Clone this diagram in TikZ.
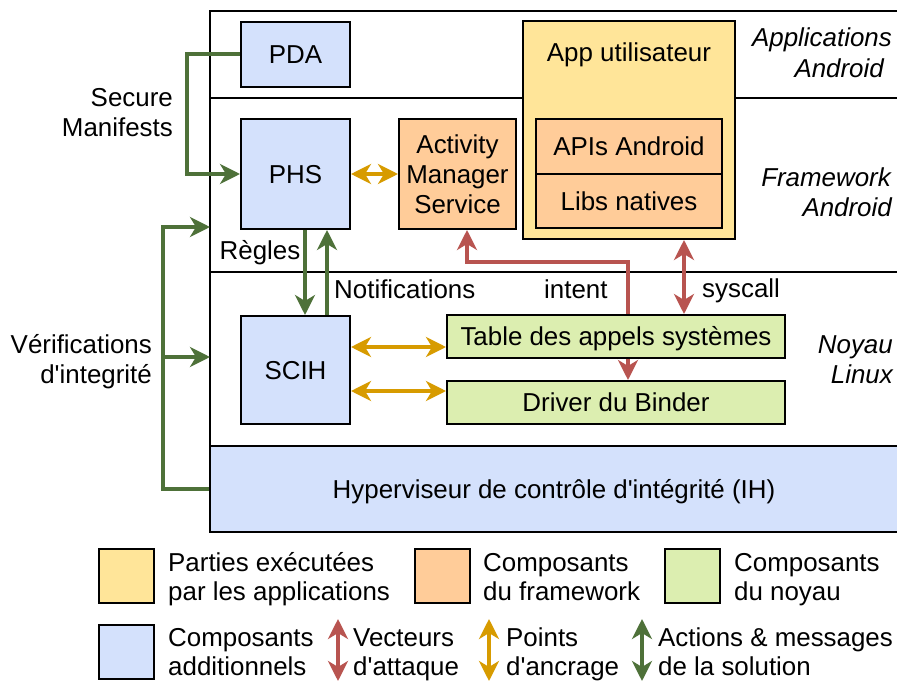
\documentclass[tikz,border=0pt]{standalone}
\usepackage{fontspec}
\setmainfont{Liberation Sans}
\usetikzlibrary{arrows.meta}
\definecolor{cblue}{HTML}{D4E1FC}
\definecolor{cyellow}{HTML}{FFE599}
\definecolor{corange}{HTML}{FFCC99}
\definecolor{cgreen}{HTML}{DCEEB0}
\definecolor{ared}{HTML}{B85450}
\definecolor{agold}{HTML}{D79B00}
\definecolor{agreen}{HTML}{4E7139}
\newcommand{\myq}{\textquotesingle}
\begin{document}
\begin{tikzpicture}[x=1pt,y=-1pt,
  font=\fontsize{25.9}{30}\selectfont,
  >={Stealth[length=20pt,width=20pt,inset=6pt]},
  box/.style={draw=black, line width=2pt, inner sep=0pt, align=center},
  one/.style={text height=18.5pt, text depth=0pt},
  lbl/.style={inner sep=0pt},
  layer/.style={inner sep=0pt, anchor=base east, font=\fontsize{25.9}{30}\selectfont\itshape},
  rline/.style={draw=ared, line width=4pt},
  oline/.style={draw=agold, line width=4pt},
  gline/.style={draw=agreen, line width=4pt},
  frame/.style={draw=black, line width=2pt}
]
\useasboundingbox (0,0) rectangle (897,682);
% frame and layers
\draw[frame] (897,11) -- (210,11) -- (210,532) -- (897,532);
\draw[frame] (210,98) -- (897,98);
\draw[frame] (210,272) -- (897,272);

% boxes
\node[box, fill=cblue, minimum width=109pt, minimum height=65pt, one] (pda) at (295.5,54.5) {PDA};
\node[box, fill=cblue, minimum width=109pt, minimum height=110pt, one] (phs) at (295.5,174) {PHS};
\node[box, fill=corange, minimum width=117pt, minimum height=110pt] (ams) at (457.5,174) {Activity\\Manager\\Service};
\node[box, fill=cyellow, minimum width=212pt, minimum height=218pt] (app) at (629,130) {};
\node[lbl, anchor=base] (apptxt) at (629,62) {App utilisateur};
\node[box, fill=corange, minimum width=186pt, minimum height=55pt, one] (apis) at (629,146.5) {APIs Android};
\node[box, fill=corange, minimum width=186pt, minimum height=54pt, one] (libs) at (629,201) {Libs natives};
\node[box, fill=cblue, minimum width=109pt, minimum height=108pt, one] (scih) at (295.5,370) {SCIH};
\node[box, fill=cgreen, minimum width=338pt, minimum height=43pt, one] (binder) at (616,402.5) {Driver du Binder};
\node[box, fill=cblue, minimum width=688pt, minimum height=86pt, one] (ih) at (554,489) {Hyperviseur de contrôle d\myq intégrité (IH)};

% layer labels
\node[layer] (l1a) at (892,47) {Applications};
\node[layer] (l1b) at (884,78) {Android};
\node[layer] (l2a) at (891,186) {Framework};
\node[layer] (l2b) at (892,216) {Android};
\node[layer] (l3a) at (893,353) {Noyau};
\node[layer] (l3b) at (893,383) {Linux};

% red intent path (behind the table)
\coordinate (ic) at (628,262);
\coordinate (ia) at ([xshift=9.5pt]ams.south);
\draw[rline, <->] (ia) |- (ic) -- (ic |- binder.north);
\node[box, fill=cgreen, minimum width=338pt, minimum height=43pt, one] (table) at (616,336.5) {Table des appels systèmes};
\coordinate (sc) at ([xshift=55pt]app.south);
\draw[rline, <->] (sc) -- (sc |- table.north);

% gold hooks
\draw[oline, <->] (phs.east) -- (ams.west);
\coordinate (s1) at ([yshift=23pt]scih.east);
\draw[oline, <->] (s1) -- (s1 -| table.west);
\coordinate (s2) at ([yshift=-21pt]scih.east);
\draw[oline, <->] (s2) -- (s2 -| binder.west);

% green actions
\draw[gline, ->] (pda.west) -| (187,174) -- (phs.west);
\coordinate (rg) at ([xshift=9.5pt]phs.south);
\draw[gline, ->] (rg) -- (rg |- scih.north);
\coordinate (nt) at ([xshift=31.5pt]scih.north);
\draw[gline, ->] (nt) -- (nt |- phs.south);
\coordinate (vtop) at (210,227);
\coordinate (vmid) at (210,357);
\draw[gline, ->] (ih.west) -| (163,227) -- (vtop);
\draw[gline, ->] (163,357) -- (vmid);

% connector labels
\node[lbl, anchor=base east] (sec1) at (173,107) {Secure};
\node[lbl, anchor=base east] (sec2) at (173,137) {Manifests};
\node[lbl, anchor=base east] (ver1) at (152,353) {Vérifications};
\node[lbl, anchor=base east] (ver2) at (152,383) {d\myq integrité};
\node[lbl, anchor=base] (regles) at (260,259) {Règles};
\node[lbl, anchor=base west] (notif) at (334,298) {Notifications};
\node[lbl, anchor=base west] (intent) at (544,298) {intent};
\node[lbl, anchor=base west] (syscall) at (702,297) {syscall};

% legend
\node[box, fill=cyellow, minimum width=55pt, minimum height=54pt] (lgy) at (126.5,576) {};
\node[box, fill=corange, minimum width=55pt, minimum height=54pt] (lgo) at (442.5,576) {};
\node[box, fill=cgreen, minimum width=55pt, minimum height=54pt] (lgg) at (692.5,576) {};
\node[box, fill=cblue, minimum width=55pt, minimum height=54pt] (lgb) at (126.5,652) {};
\node[lbl, anchor=base west] (t1a) at (168,571) {Parties exécutées};
\node[lbl, anchor=base west] (t1b) at (168,600) {par les applications};
\node[lbl, anchor=base west] (t2a) at (483,571) {Composants};
\node[lbl, anchor=base west] (t2b) at (483,600) {du framework};
\node[lbl, anchor=base west] (t3a) at (734,571) {Composants};
\node[lbl, anchor=base west] (t3b) at (734,600) {du noyau};
\node[lbl, anchor=base west] (t4a) at (168,646) {Composants};
\node[lbl, anchor=base west] (t4b) at (168,675) {additionnels};
\node[lbl, anchor=base west] (t5a) at (353,646) {Vecteurs};
\node[lbl, anchor=base west] (t5b) at (353,675) {d\myq attaque};
\node[lbl, anchor=base west] (t6a) at (506,646) {Points};
\node[lbl, anchor=base west] (t6b) at (506,675) {d\myq ancrage};
\node[lbl, anchor=base west] (t7a) at (658,646) {Actions \& messages};
\node[lbl, anchor=base west] (t7b) at (658,675) {de la solution};
\coordinate (ar1) at (338,619); \coordinate (ar2) at (338,681);
\coordinate (ao1) at (489,619); \coordinate (ao2) at (489,681);
\coordinate (ag1) at (642,619); \coordinate (ag2) at (642,681);
\draw[rline, <->] (ar1) -- (ar2);
\draw[oline, <->] (ao1) -- (ao2);
\draw[gline, <->] (ag1) -- (ag2);
\end{tikzpicture}
\end{document}
